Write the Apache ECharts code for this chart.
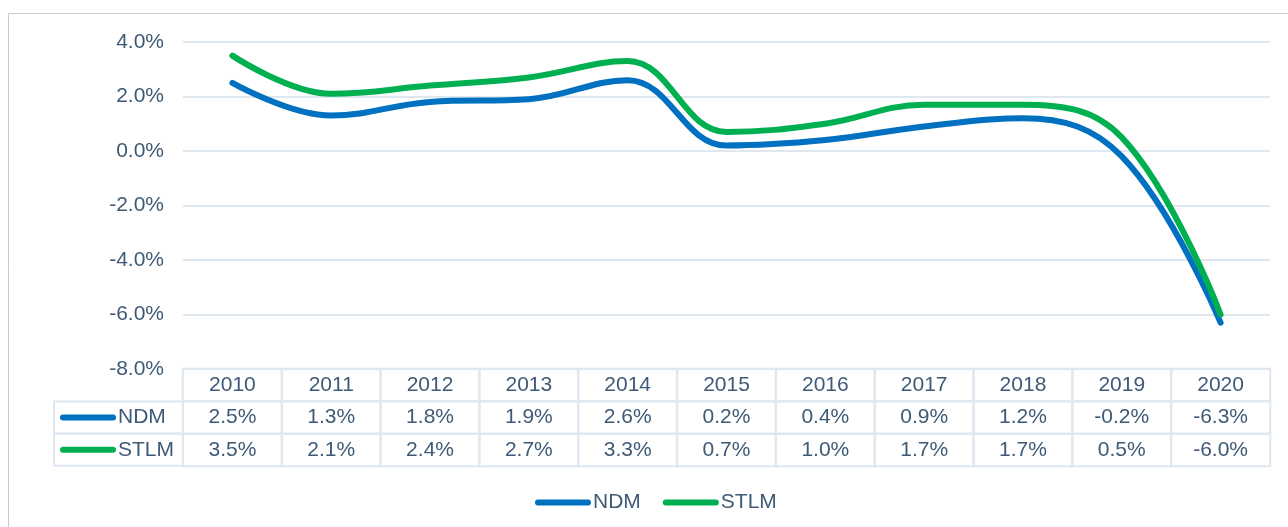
<!DOCTYPE html>
<html>
<head>
<meta charset="utf-8">
<script src="https://cdn.jsdelivr.net/npm/echarts@6/dist/echarts.min.js"></script>
<style>
	html, body { margin: 0; padding: 0; background: #fff; }
	#chart { width: 1288px; height: 527px; }
</style>
</head>
<body>
<div id="chart"></div>
<script>
	// 数据
	var years = ['2010', '2011', '2012', '2013', '2014', '2015', '2016', '2017', '2018', '2019', '2020'];
	var ndm = [2.5, 1.3, 1.8, 1.9, 2.6, 0.2, 0.4, 0.9, 1.2, -0.2, -6.3];
	var stlm = [3.5, 2.1, 2.4, 2.7, 3.3, 0.7, 1.0, 1.7, 1.7, 0.5, -6.0];
	var seriesNames = ['NDM', 'STLM'];
	var tableRows = ['year', 'NDM', 'STLM'];

	var txtColor = '#3e5a76';
	var lineColor = '#dfe8f1';
	var colors = ['#0070c0', '#00b050'];
	var font = 'Arial, "Liberation Sans", sans-serif';
	var fs = 21;
	var keyIcon = 'path://M3,0 L53,0 A3,3 0 0 1 53,6 L3,6 A3,3 0 0 1 3,0 Z';

	// 表格数据 [x, y, value]
	var tableData = [];
	years.forEach(function(y, i) {
		tableData.push([i, 0, Number(y)]);
		tableData.push([i, 1, ndm[i]]);
		tableData.push([i, 2, stlm[i]]);
	});

	var chart = echarts.init(document.getElementById('chart'));
	chart.setOption({
		animation: false,
		textStyle: { fontFamily: font },
		graphic: [{
			type: 'rect',
			shape: { x: 8.5, y: 13.5, width: 1300, height: 540 },
			style: { fill: 'none', stroke: '#c8ccd0', lineWidth: 1 },
			silent: true
		}],
		legend: {
			data: seriesNames,
			icon: keyIcon,
			left: 530,
			top: 487,
			itemWidth: 56,
			itemHeight: 6,
			itemGap: 22,
			textStyle: { color: txtColor, fontSize: fs, fontFamily: font, padding: [0, 0, 0, -3] }
		},
		grid: [
			{ left: 183, right: 18, top: 42, height: 327 },
			{ left: 183, right: 18, top: 369, height: 97 }
		],
		xAxis: [{
			type: 'category',
			gridIndex: 0,
			data: years,
			boundaryGap: true,
			axisLine: { show: false },
			axisTick: { show: false },
			axisLabel: { show: false }
		}, {
			type: 'category',
			gridIndex: 1,
			data: years,
			boundaryGap: true,
			axisLine: { show: false },
			axisTick: { show: false },
			axisLabel: { show: false }
		}],
		yAxis: [{
			type: 'value',
			gridIndex: 0,
			min: -8,
			max: 4,
			interval: 2,
			axisLine: { show: false },
			axisTick: { show: false },
			axisLabel: {
				color: txtColor,
				fontSize: fs,
				margin: 19,
				formatter: function(v) { return v.toFixed(1) + '%'; }
			},
			splitLine: { lineStyle: { color: lineColor, width: 2 } }
		}, {
			type: 'category',
			gridIndex: 1,
			data: tableRows,
			inverse: true,
			axisLine: { show: false },
			axisTick: { show: false },
			splitLine: { show: false },
			axisLabel: {
				interval: 0,
				align: 'left',
				margin: 129,
				width: 123,
				height: 20,
				lineHeight: 20,
				borderColor: lineColor,
				borderWidth: 2,
				padding: [6, 0, 6, 6],
				formatter: function(v, i) {
					if (i === 0) return '';
					return '{k' + i + '|}{t|' + v + '}';
				},
				rich: {
					k1: { backgroundColor: colors[0], width: 56, height: 6, borderRadius: 3 },
					k2: { backgroundColor: colors[1], width: 56, height: 6, borderRadius: 3 },
					t: { color: txtColor, fontSize: fs, fontFamily: font, lineHeight: 20, padding: [0, 0, 0, 2] }
				}
			}
		}],
		series: [{
			name: 'NDM',
			type: 'line',
			xAxisIndex: 0,
			yAxisIndex: 0,
			data: ndm,
			smooth: 0.4,
			showSymbol: false,
			symbol: 'none',
			color: colors[0],
			lineStyle: { width: 6, cap: 'round', join: 'round' }
		}, {
			name: 'STLM',
			type: 'line',
			xAxisIndex: 0,
			yAxisIndex: 0,
			data: stlm,
			smooth: 0.4,
			showSymbol: false,
			symbol: 'none',
			color: colors[1],
			lineStyle: { width: 6, cap: 'round', join: 'round' }
		}, {
			// 数据表
			name: 'table',
			type: 'heatmap',
			xAxisIndex: 1,
			yAxisIndex: 1,
			data: tableData,
			itemStyle: { color: 'rgba(255,255,255,0)', borderColor: lineColor, borderWidth: 2 },
			label: {
				show: true,
				color: txtColor,
				fontSize: fs,
				fontFamily: font,
				formatter: function(p) {
					return p.value[1] === 0 ? String(p.value[2]) : p.value[2].toFixed(1) + '%';
				}
			},
			emphasis: { disabled: true }
		}]
	});
</script>
</body>
</html>
